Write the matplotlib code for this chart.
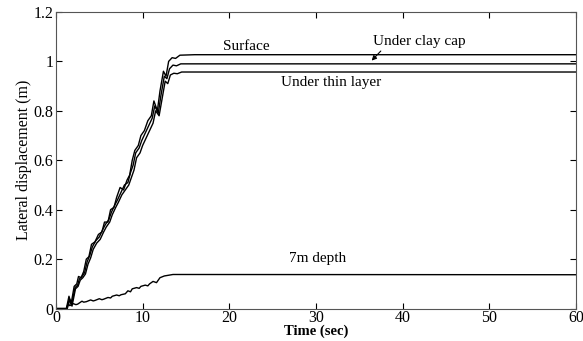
import matplotlib.pyplot as plt
from matplotlib.ticker import FormatStrFormatter

plt.rcParams['font.family'] = ['Liberation Serif', 'DejaVu Serif']

# surface
t_surf = [0, 1.2, 1.5, 1.75, 2.1, 2.4, 2.6, 2.9, 3.2, 3.5, 3.8, 4.1, 4.5, 4.9, 5.3, 5.6,
          6.0, 6.3, 6.7, 7.0, 7.4, 7.8, 8.2, 8.5, 8.8, 9.1, 9.5, 9.8, 10.2, 10.6, 11.0,
          11.3, 11.7, 12.0, 12.4, 12.7, 13.0, 13.4, 13.8, 14.3, 16, 60]
d_surf = [0, 0, 0.05, 0.02, 0.09, 0.10, 0.13, 0.125, 0.15, 0.20, 0.21, 0.26, 0.27, 0.30, 0.31, 0.35,
          0.35, 0.40, 0.41, 0.45, 0.49, 0.48, 0.52, 0.54, 0.60, 0.64, 0.66, 0.70, 0.72, 0.76, 0.78,
          0.84, 0.80, 0.88, 0.96, 0.94, 1.00, 1.015, 1.012, 1.025, 1.027, 1.027]

# under clay cap
t_clay = [0, 1.25, 1.55, 1.8, 2.2, 2.5, 2.7, 3.0, 3.3, 3.6, 3.9, 4.2, 4.6, 5.0, 5.4, 5.7,
          6.1, 6.4, 6.8, 7.1, 7.5, 7.9, 8.3, 8.6, 8.9, 9.2, 9.6, 9.9, 10.3, 10.7, 11.1,
          11.4, 11.8, 12.1, 12.5, 12.8, 13.1, 13.5, 13.9, 14.4, 60]
d_clay = [0, 0, 0.04, 0.015, 0.085, 0.095, 0.12, 0.13, 0.145, 0.19, 0.215, 0.25, 0.275, 0.29, 0.32, 0.34,
          0.36, 0.39, 0.42, 0.44, 0.47, 0.50, 0.51, 0.55, 0.58, 0.63, 0.65, 0.68, 0.71, 0.74, 0.77,
          0.82, 0.79, 0.86, 0.94, 0.93, 0.97, 0.985, 0.982, 0.99, 0.99]

# under thin layer
t_thin = [0, 1.3, 1.6, 1.85, 2.25, 2.55, 2.8, 3.1, 3.4, 3.7, 4.0, 4.3, 4.7, 5.1, 5.5, 5.8,
          6.2, 6.5, 6.9, 7.2, 7.6, 8.0, 8.4, 8.7, 9.0, 9.3, 9.7, 10.0, 10.4, 10.8, 11.2,
          11.5, 11.9, 12.2, 12.6, 12.9, 13.2, 13.6, 14.0, 14.5, 60]
d_thin = [0, 0, 0.035, 0.01, 0.08, 0.09, 0.115, 0.125, 0.14, 0.18, 0.205, 0.24, 0.265, 0.28, 0.31, 0.33,
          0.35, 0.38, 0.41, 0.43, 0.46, 0.48, 0.50, 0.53, 0.56, 0.61, 0.63, 0.66, 0.69, 0.72, 0.75,
          0.80, 0.78, 0.84, 0.92, 0.91, 0.945, 0.952, 0.95, 0.957, 0.957]

# 7m depth
t_7m = [0, 1.2, 1.4, 1.6, 2.0, 2.3, 2.5, 3.0, 3.2, 3.5, 4.0, 4.3, 4.5, 5.0, 5.3, 5.5, 6.0, 6.3,
        6.5, 7.0, 7.3, 7.5, 8.0, 8.3, 8.6, 8.8, 9.3, 9.6, 9.8, 10.3, 10.6, 10.8, 11.2, 11.6,
        12.0, 12.5, 13.0, 13.5, 60]
d_7m = [0, 0, 0.02, 0.012, 0.02, 0.016, 0.018, 0.03, 0.026, 0.028, 0.035, 0.031, 0.033, 0.04, 0.036,
        0.038, 0.045, 0.043, 0.05, 0.055, 0.052, 0.056, 0.06, 0.072, 0.068, 0.08, 0.085, 0.082,
        0.09, 0.095, 0.092, 0.10, 0.11, 0.105, 0.125, 0.132, 0.135, 0.138, 0.137]

fig = plt.figure(figsize=(5.83, 3.41), dpi=100)
ax = fig.add_axes([0.096, 0.095, 0.892, 0.87])

for t, d in [(t_surf, d_surf), (t_clay, d_clay), (t_thin, d_thin), (t_7m, d_7m)]:
    ax.plot(t, d, color='black', linewidth=1.0)

ax.set_xlim(0, 60)
ax.set_ylim(0, 1.2)
ax.set_xticks(range(0, 61, 10))
ax.set_yticks([0, 0.2, 0.4, 0.6, 0.8, 1.0, 1.2])
ax.yaxis.set_major_formatter(FormatStrFormatter('%g'))
ax.tick_params(direction='in', top=True, right=True, length=4, labelsize=11.5, pad=2)
ax.tick_params(axis='x', pad=1)
for s in ax.spines.values():
    s.set_linewidth(0.8)
    s.set_color('#555555')

ax.set_xlabel('Time (sec)', fontsize=10.5, fontweight='bold', labelpad=-1)
ax.set_ylabel('Lateral displacement (m)', fontsize=11.5, labelpad=1)

ax.text(22.0, 1.06, 'Surface', ha='center', va='center', fontsize=11)
ax.text(41.9, 1.081, 'Under clay cap', ha='center', va='center', fontsize=11)
ax.annotate('', xy=(36.2, 0.995), xytext=(37.7, 1.05),
            arrowprops=dict(arrowstyle='-|>', color='black', lw=0.8, mutation_scale=7))
ax.text(31.8, 0.916, 'Under thin layer', ha='center', va='center', fontsize=11)
ax.text(30.2, 0.204, '7m depth', ha='center', va='center', fontsize=11)

fig.savefig('out.png', dpi=100)
